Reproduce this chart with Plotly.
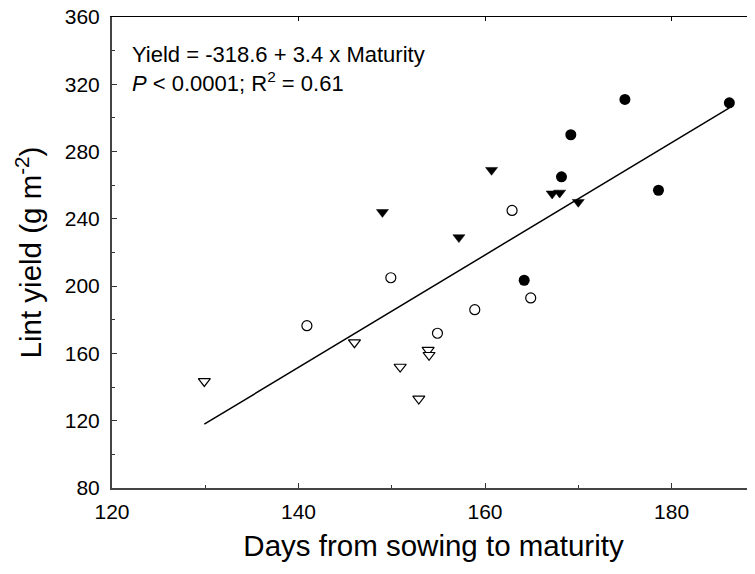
import plotly.graph_objects as go

# Data
filled_circle_x = [175.0, 186.2, 169.2, 168.2, 178.6, 164.2]
filled_circle_y = [311, 309, 290, 265, 257, 203.5]

filled_tri_x = [160.7, 149.0, 157.2, 167.2, 168.0, 170.0]
filled_tri_y = [269, 244, 229, 255, 255.5, 250]

open_circle_x = [162.9, 149.9, 140.9, 164.9, 158.9, 154.9]
open_circle_y = [245, 205, 176.5, 193, 186, 172]

open_tri_x = [129.9, 146.0, 150.9, 153.9, 154.0, 152.9]
open_tri_y = [143.5, 166.5, 152, 162, 159, 133]

fit_intercept = -315.9
fit_slope = 3.34

x_ticks = [120, 140, 160, 180]
y_ticks = [80, 120, 160, 200, 240, 280, 320, 360]

all_x = filled_circle_x + filled_tri_x + open_circle_x + open_tri_x
line_x = [min(all_x), max(all_x)]
line_y = [fit_intercept + fit_slope * v for v in line_x]

FONT = "Liberation Sans, Arial, sans-serif"

fig = go.Figure()
fig.add_trace(go.Scatter(x=line_x, y=line_y, mode="lines",
                         line=dict(color="black", width=1.5), showlegend=False))
fig.add_trace(go.Scatter(x=filled_circle_x, y=filled_circle_y, mode="markers",
                         marker=dict(symbol="circle", size=11, color="black",
                                     line=dict(width=0)), showlegend=False))
fig.add_trace(go.Scatter(x=filled_tri_x, y=filled_tri_y, mode="markers",
                         marker=dict(symbol="triangle-down", size=10.5, color="black",
                                     line=dict(width=0.5, color="black")), showlegend=False))
fig.add_trace(go.Scatter(x=open_circle_x, y=open_circle_y, mode="markers",
                         marker=dict(symbol="circle", size=10, color="white",
                                     line=dict(width=1.2, color="black")), showlegend=False))
fig.add_trace(go.Scatter(x=open_tri_x, y=open_tri_y, mode="markers",
                         marker=dict(symbol="triangle-down", size=10.5, color="white",
                                     line=dict(width=1.2, color="black")), showlegend=False))
# invisible trace for the top axis
fig.add_trace(go.Scatter(x=[130], y=[100], xaxis="x2", mode="markers",
                         marker=dict(opacity=0), showlegend=False, hoverinfo="skip"))

fig.update_layout(
    width=755, height=574,
    margin=dict(l=104, r=8, t=9, b=94),
    paper_bgcolor="white", plot_bgcolor="white",
    font=dict(family=FONT, color="black", size=21),
    xaxis=dict(range=[120, 188.95], tickvals=x_ticks, ticks="inside", ticklen=5,
               tickwidth=1, tickcolor="#333", showline=True, linecolor="#444",
               linewidth=2, showgrid=False, zeroline=False, automargin=False,
               minor=dict(dtick=10, tick0=120, ticks="inside", ticklen=3, tickcolor="#333"),
               tickfont=dict(size=21), ticklabelstandoff=4, ticklabeloverflow="allow",
               title=dict(text="Days from sowing to maturity", font=dict(size=29.5), standoff=13)),
    xaxis2=dict(overlaying="x", matches="x", side="top", showticklabels=False,
                tickvals=x_ticks, ticks="inside", ticklen=4, tickcolor="black",
                showline=True, linecolor="black", linewidth=1, showgrid=False,
                zeroline=False, automargin=False),
    yaxis=dict(range=[80, 360], tickvals=y_ticks, ticks="inside", ticklen=5,
               tickwidth=1, tickcolor="#333", showline=True, linecolor="#444",
               linewidth=2, showgrid=False, zeroline=False, automargin=False,
               minor=dict(dtick=20, tick0=80, ticks="inside", ticklen=3, tickcolor="#333"),
               tickfont=dict(size=21), ticklabelstandoff=6, ticklabeloverflow="allow",
               title=dict(text="Lint yield (g m<sup>-2</sup>)", font=dict(size=29.5), standoff=14)),
    annotations=[
        dict(x=121.9, y=337.5, xref="x", yref="y", xanchor="left", yanchor="middle",
             text="Yield = -318.6 + 3.4 x Maturity", showarrow=False,
             font=dict(size=22, family=FONT)),
        dict(x=121.9, y=321.2, xref="x", yref="y", xanchor="left", yanchor="middle",
             text="<i>P</i> &lt; 0.0001; R<sup>2</sup> = 0.61", showarrow=False,
             font=dict(size=22, family=FONT)),
    ],
)

fig.write_html("out.html")
